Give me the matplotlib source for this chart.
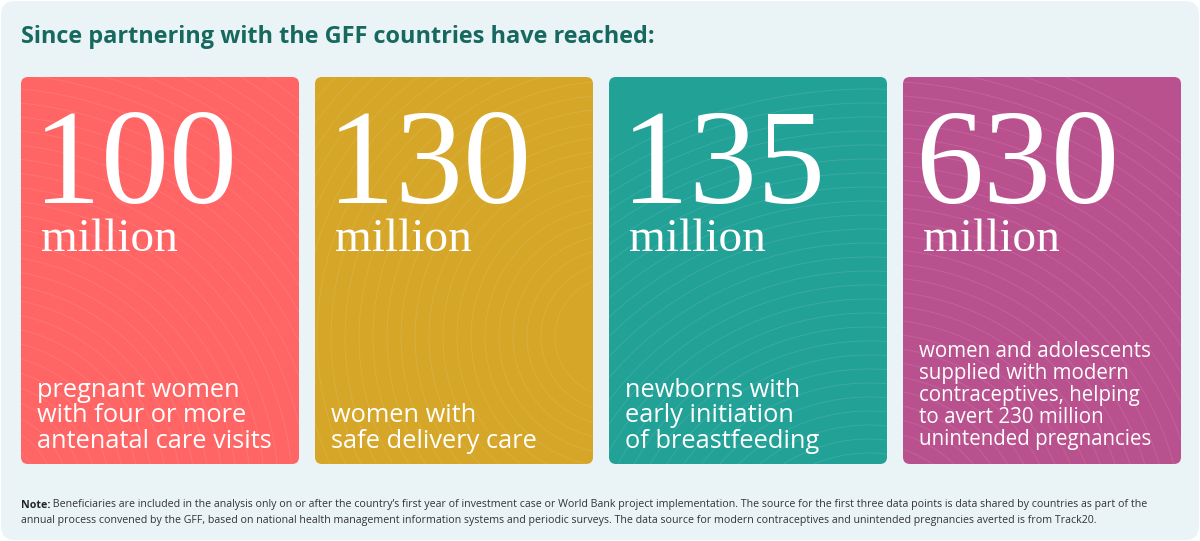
import matplotlib.pyplot as plt
import numpy as np
from matplotlib.patches import FancyBboxPatch, Circle

title = 'Since partnering with the GFF countries have reached:'
values = ['100', '130', '135', '630']
unit = 'million'
descriptions = [
    'pregnant women\nwith four or more\nantenatal care visits',
    'women with\nsafe delivery care',
    'newborns with\nearly initiation\nof breastfeeding',
    'women and adolescents\nsupplied with modern\ncontraceptives, helping\nto avert 230 million\nunintended pregnancies',
]
card_colors = ['#FE6564', '#D5A627', '#22A197', '#B9518E']
note_head = 'Note:'
note_line1 = (' Beneficiaries are included in the analysis only on or after the country\u2019s first year of investment case or '
              'World Bank project implementation. The source for the first three data points is data shared by countries as part of the')
note_line2 = ('annual process convened by the GFF, based on national health management information systems and periodic surveys. '
              'The data source for modern contraceptives and unintended pregnancies averted is from Track20.')

# contour centres for the faint background pattern (relative to card)
pattern_centres = [(-40, 420), (300, 260), (260, 520), (-30, 470)]

W, H = 1200, 541
fig = plt.figure(figsize=(W / 100, H / 100), dpi=100)
fig.patch.set_facecolor('white')
ax = fig.add_axes([0, 0, 1, 1])
ax.set_xlim(0, W)
ax.set_ylim(H, 0)
ax.axis('off')

# page background panel
bg = FancyBboxPatch((1, 1), W - 2, H - 2, boxstyle='round,pad=0,rounding_size=14',
                    facecolor='#EAF4F6', edgecolor='none')
ax.add_patch(bg)

ax.text(21, 37, title, fontsize=16.9, fontweight='bold', family='Open Sans',
        color='#17695F', va='center', ha='left')

card_w, card_h = 278, 387
x0, y0, pitch = 21, 77, 294
serif = 'Liberation Serif'
sans = 'Open Sans'

for i, (val, desc, col) in enumerate(zip(values, descriptions, card_colors)):
    cx = x0 + i * pitch
    card = FancyBboxPatch((cx, y0), card_w, card_h, boxstyle='round,pad=0,rounding_size=7',
                          facecolor=col, edgecolor='none')
    ax.add_patch(card)

    # faint topographic-like rings
    px, py = pattern_centres[i]
    for r in np.arange(60, 520, 14):
        ring = Circle((cx + px, y0 + py), r, fill=False, edgecolor='white',
                      linewidth=0.7, alpha=0.1)
        ax.add_patch(ring)
        ring.set_clip_path(card)

    ax.text(cx + 12, 203, val, fontsize=98, family=serif, color='white',
            ha='left', va='baseline')
    ax.text(cx + 20, 251, unit, fontsize=34, family=serif, color='white',
            ha='left', va='baseline')

    lines = desc.split('\n')
    if len(lines) > 4:
        size, step, last = 14.8, 22, 445
    else:
        size, step, last = 18.3, 25.5, 448
    for k, line in enumerate(lines):
        yb = last - (len(lines) - 1 - k) * step
        ax.text(cx + 16, yb, line, fontsize=size, family=sans, color='white',
                ha='left', va='baseline')

# note at bottom
t1 = ax.text(21, 505, note_head, fontsize=7.7, fontweight='bold', family=sans,
             color='#222222', va='center', ha='left')
fig.canvas.draw()
bb = t1.get_window_extent()
ax.text(21 + bb.width, 505, note_line1, fontsize=7.7, family=sans, color='#333333',
        va='center', ha='left')
ax.text(21, 521, note_line2, fontsize=7.7, family=sans, color='#333333',
        va='center', ha='left')

fig.savefig('out.png', dpi=100, facecolor='white')
